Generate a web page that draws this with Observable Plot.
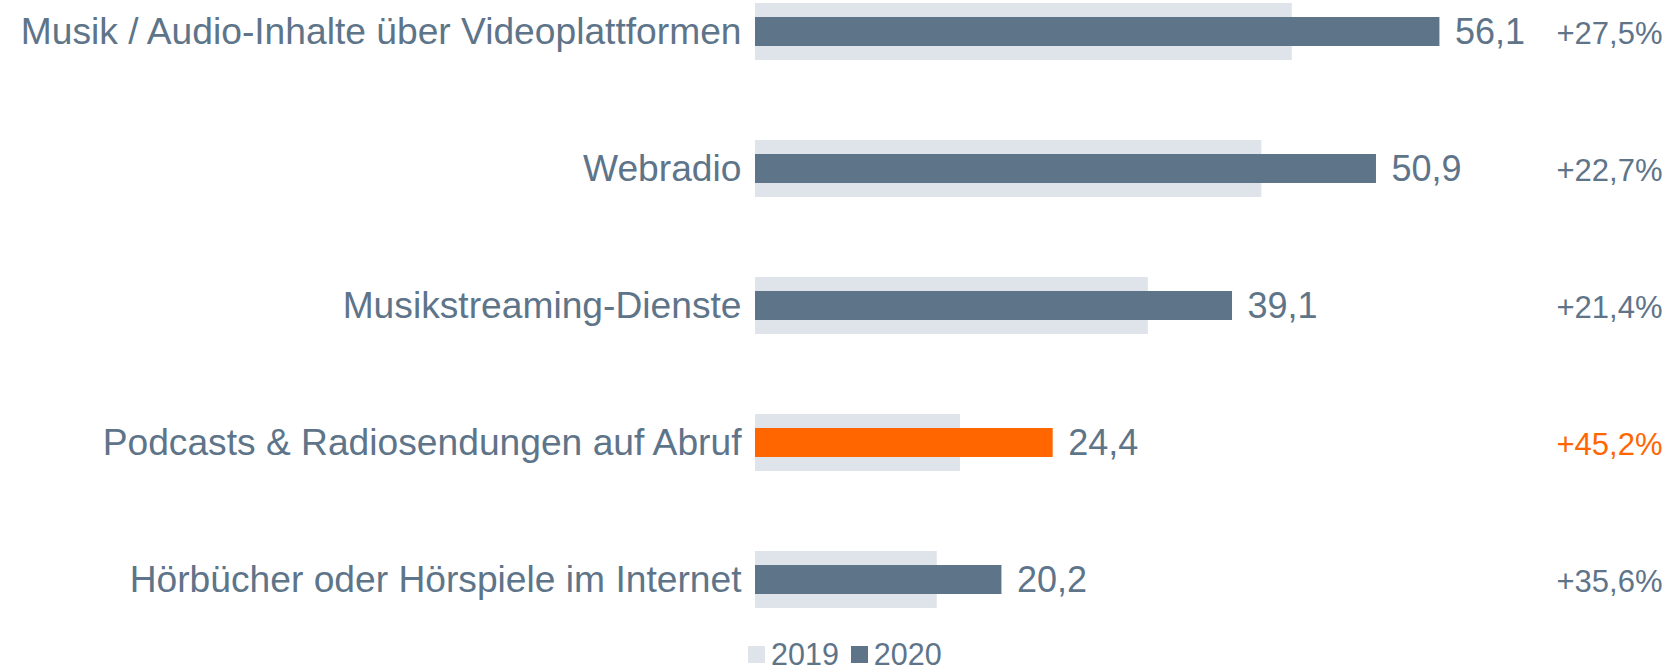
<!DOCTYPE html>
<html>
<head>
<meta charset="utf-8">
<script src="https://cdn.jsdelivr.net/npm/d3@7"></script>
<script src="https://cdn.jsdelivr.net/npm/@observablehq/plot@0.6"></script>
<style>
  body { margin: 0; background: #fff; font-family: "Liberation Sans", Arial, sans-serif; overflow: hidden; }
  #chart svg { display: block; }
  .legend { display: flex; align-items: center; height: 30px; line-height: 30px; padding-top: 17px; padding-left: 748px; color: #5e7489; font-size: 30.5px; font-family: "Liberation Sans", Arial, sans-serif; }
  .legend .sw { width: 17px; height: 17px; display: inline-block; margin-right: 6px; }
  .legend .item { display: flex; align-items: center; margin-right: 12px; }
</style>
</head>
<body>
<div id="chart"></div>
<div class="legend" id="legend"></div>
<script>
const categories = [
  "Musik / Audio-Inhalte über Videoplattformen",
  "Webradio",
  "Musikstreaming-Dienste",
  "Podcasts & Radiosendungen auf Abruf",
  "Hörbücher oder Hörspiele im Internet"
];
const values2019 = [44.0, 41.5, 32.2, 16.8, 14.9];
const values2020 = [56.1, 50.9, 39.1, 24.4, 20.2];
const changes = ["+27,5%", "+22,7%", "+21,4%", "+45,2%", "+35,6%"];
const highlighted = [false, false, false, true, false];
const legendYears = ["2019", "2020"];

const colBar = "#5e7489";
const colPrev = "#dfe3ea";
const colHi = "#ff6600";
const colText = "#5e7489";

const data = categories.map((c, i) => ({
  cat: c, v19: values2019[i], v20: values2020[i], ch: changes[i], hi: highlighted[i]
}));
const fmt = v => d3.format(".1f")(v).replace(".", ",");

const W = 1668, H = 622;
const chart = Plot.plot({
  width: W,
  height: H,
  marginLeft: 755,
  marginRight: 6,
  marginTop: 0,
  marginBottom: 0,
  style: { fontFamily: "'Liberation Sans', Arial, sans-serif", color: colText, background: "#fff" },
  x: { domain: [0, 75], range: [755, 755 + 75 * 12.2], axis: null },
  y: { domain: categories, range: [1.5, 609.5], paddingInner: 0.586, paddingOuter: 0, label: null },
  marks: [
    Plot.barX(data, { x: "v19", y: "cat", fill: colPrev }),
    Plot.barX(data, { x: "v20", y: "cat", fill: d => d.hi ? colHi : colBar, insetTop: 14, insetBottom: 14 }),
    Plot.text(data, { x: "v20", y: "cat", text: d => fmt(d.v20), textAnchor: "start", dx: 15, fontSize: 36, fill: colText }),
    Plot.text(data, { y: "cat", frameAnchor: "right", text: "ch", textAnchor: "end", dy: 2, fontSize: 31, fill: d => d.hi ? colHi : colText }),
    Plot.axisY({ tickSize: 0, tickPadding: 14, fontSize: 37.2, label: null, fill: colText })
  ]
});
document.getElementById("chart").appendChild(chart);

const legendColors = [colPrev, colBar];
const lg = document.getElementById("legend");
legendYears.forEach((y, i) => {
  const it = document.createElement("span");
  it.className = "item";
  it.innerHTML = `<span class="sw" style="background:${legendColors[i]}"></span><span>${y}</span>`;
  lg.appendChild(it);
});
</script>
</body>
</html>
